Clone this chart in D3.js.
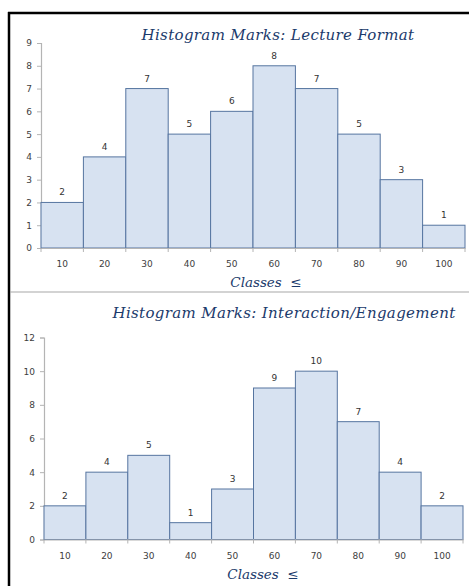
<!DOCTYPE html>
<html><head><meta charset="utf-8">
<script src="https://cdn.jsdelivr.net/npm/d3@7"></script>
<style>body{margin:0;background:#fff}svg{display:block}</style>
</head><body>
<script>
const categories = ["10","20","30","40","50","60","70","80","90","100"];
const lectureValues = [2,4,7,5,6,8,7,5,3,1];
const interactionValues = [2,4,5,1,3,9,10,7,4,2];
const lectureTicks = [0,1,2,3,4,5,6,7,8,9];
const interactionTicks = [0,2,4,6,8,10,12];
const titles = ["Histogram Marks: Lecture Format","Histogram Marks: Interaction/Engagement"];
const xTitle = "Classes  \u2264";

const W=469,H=586;
const svg=d3.select("body").append("svg").attr("width",W).attr("height",H);
svg.append("rect").attr("width",W).attr("height",H).attr("fill","#fff");

const fill="#D7E2F1", stroke="#5675A0", axisCol="#B4B4B4", txt="#404040", titleCol="#1B3A6B";

function chart(cfg){
  const g=svg.append("g");
  const x=d3.scaleBand().domain(categories).range([cfg.x0,cfg.x1]).padding(0);
  const y=d3.scaleLinear().domain([0,cfg.max]).range([cfg.yb,cfg.yt]);
  // title
  g.append("text").attr("x",cfg.tx).attr("y",cfg.ty).attr("text-anchor","middle")
   .attr("font-family","DejaVu Serif").attr("font-style","italic").attr("font-size",15)
   .attr("letter-spacing",0.35).attr("fill",titleCol).text(cfg.title);
  // y axis
  const ya=g.append("g").attr("transform",`translate(${cfg.x0},0)`)
   .call(d3.axisLeft(y).tickValues(cfg.ticks).tickSize(4).tickPadding(5));
  ya.select(".domain").attr("stroke",axisCol).attr("stroke-width",1.2);
  ya.selectAll(".tick line").attr("stroke",axisCol);
  ya.selectAll("text").attr("font-family","DejaVu Sans").attr("font-size",9).attr("fill",txt);
  // bars
  g.selectAll("rect.bar").data(cfg.values).join("rect").attr("class","bar")
   .attr("x",(d,i)=>x(categories[i])).attr("width",x.bandwidth())
   .attr("y",d=>y(d)).attr("height",d=>y(0)-y(d))
   .attr("fill",fill).attr("stroke",stroke).attr("stroke-width",1);
  // value labels
  g.selectAll("text.val").data(cfg.values).join("text").attr("class","val")
   .attr("x",(d,i)=>x(categories[i])+x.bandwidth()/2).attr("y",d=>y(d)-7)
   .attr("text-anchor","middle").attr("font-family","DejaVu Sans").attr("font-size",9)
   .attr("fill","#333").text(d=>d);
  // x axis
  const xa=g.append("g").attr("transform",`translate(0,${cfg.yb})`)
   .call(d3.axisBottom(x).tickSize(0).tickPadding(13));
  xa.select(".domain").attr("stroke",axisCol).attr("stroke-width",1.2);
  xa.selectAll("text").attr("font-family","DejaVu Sans").attr("font-size",9).attr("fill",txt);
  const bounds=categories.map(c=>x(c)).concat([cfg.x1]);
  g.selectAll("line.bt").data(bounds).join("line").attr("class","bt")
   .attr("x1",d=>d).attr("x2",d=>d).attr("y1",cfg.yb).attr("y2",cfg.yb+4)
   .attr("stroke",axisCol);
  g.append("text").attr("x",cfg.cx).attr("y",cfg.cy).attr("text-anchor","middle")
   .attr("font-family","DejaVu Serif").attr("font-style","italic").attr("font-size",13.5)
   .attr("fill",titleCol).attr("xml:space","preserve").text(xTitle);
}

chart({x0:41,x1:465,yt:43,yb:248,max:9,ticks:lectureTicks,values:lectureValues,
  title:titles[0],tx:278,ty:40,cx:266,cy:287});
chart({x0:44,x1:463,yt:337.5,yb:539.5,max:12,ticks:interactionTicks,values:interactionValues,
  title:titles[1],tx:284,ty:318,cx:263,cy:579});

// frame
svg.append("line").attr("x1",8).attr("x2",W).attr("y1",13).attr("y2",13).attr("stroke","#000").attr("stroke-width",2.5);
svg.append("line").attr("x1",9).attr("x2",9).attr("y1",12).attr("y2",H).attr("stroke","#000").attr("stroke-width",2.5);
svg.append("line").attr("x1",10).attr("x2",W).attr("y1",292).attr("y2",292).attr("stroke","#A8A8A8").attr("stroke-width",1.2);
</script>
</body></html>
